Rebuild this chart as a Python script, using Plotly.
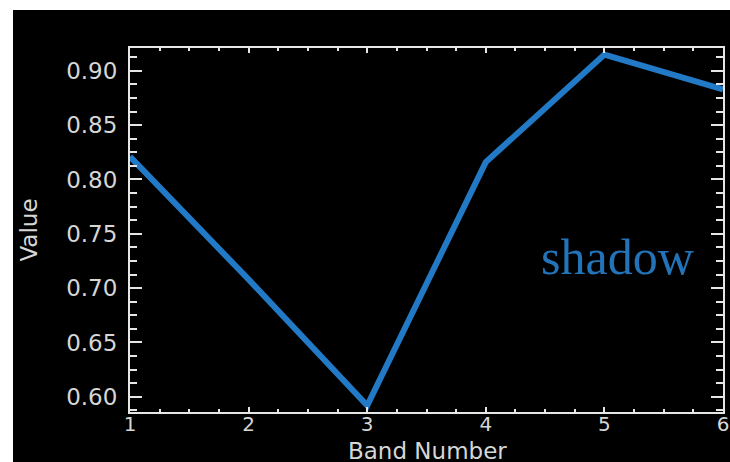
import plotly.graph_objects as go

bands = [1, 2, 3, 4, 5, 6]
values = [0.821, 0.708, 0.592, 0.816, 0.915, 0.883]
y_ticks = [0.60, 0.65, 0.70, 0.75, 0.80, 0.85, 0.90]
y_tick_text = ["0.60", "0.65", "0.70", "0.75", "0.80", "0.85", "0.90"]
x_ticks = [1, 2, 3, 4, 5, 6]
x_title = "Band Number"
y_title = "Value"
label_text = "shadow"

W, H = 730, 462
L, R, T, B = 130, 7, 48, 50
pw, ph = W - L - R, H - T - B

def px2x(px):
    return (px - L) / pw

def py2y(py):
    return (H - B - py) / ph

line_color = "#2279c6"
fg = "#d6d6d6"
axc = "#e6e6e6"

fig = go.Figure()
fig.add_trace(go.Scatter(x=bands, y=values, mode="lines",
                         line=dict(color=line_color, width=6), hoverinfo="skip"))

fig.add_shape(type="rect", xref="paper", yref="paper", layer="below",
              x0=px2x(13), x1=px2x(W + 5), y0=py2y(H + 5), y1=py2y(10),
              fillcolor="black", line=dict(width=0))

fig.add_annotation(text=label_text, xref="paper", yref="paper",
                   x=px2x(617), y=py2y(257), xanchor="center", yanchor="middle",
                   showarrow=False,
                   font=dict(family="Liberation Serif", size=50, color="#2373b8"))

fig.add_annotation(text=x_title, xref="paper", yref="paper",
                   x=px2x(427), y=py2y(451), xanchor="center", yanchor="middle",
                   showarrow=False,
                   font=dict(family="DejaVu Sans", size=23, color=fg))

fig.update_layout(
    width=W, height=H,
    margin=dict(l=L, r=R, t=T, b=B, autoexpand=False),
    paper_bgcolor="white", plot_bgcolor="black",
    showlegend=False,
    font=dict(family="DejaVu Sans", color=fg),
)
fig.update_xaxes(
    range=[1, 6], tickvals=x_ticks, ticktext=[str(v) for v in x_ticks],
    showgrid=False, zeroline=False, automargin=False,
    showline=True, linecolor=axc, linewidth=2, mirror="allticks",
    ticks="inside", ticklen=5, tickcolor=axc, tickwidth=2,
    minor=dict(dtick=0.25, ticks="inside", ticklen=3, tickcolor=axc, tickwidth=2, showgrid=False),
    tickfont=dict(size=20, color=fg), ticklabelstandoff=-7,
)
fig.update_yaxes(
    range=[0.586, 0.921], tickvals=y_ticks, ticktext=y_tick_text,
    showgrid=False, zeroline=False, automargin=False,
    showline=True, linecolor=axc, linewidth=2, mirror="allticks",
    ticks="inside", ticklen=12, tickcolor=axc, tickwidth=2,
    minor=dict(dtick=0.0125, tick0=0.6, ticks="inside", ticklen=7, tickcolor=axc, tickwidth=2, showgrid=False),
    tickfont=dict(size=23, color=fg), ticklabelstandoff=6,
    title=dict(text=y_title, font=dict(size=23, color=fg), standoff=22),
)

fig.write_html("out.html", config={"displayModeBar": False},
               post_script="document.body.style.margin='0';document.body.style.overflow='hidden';")
